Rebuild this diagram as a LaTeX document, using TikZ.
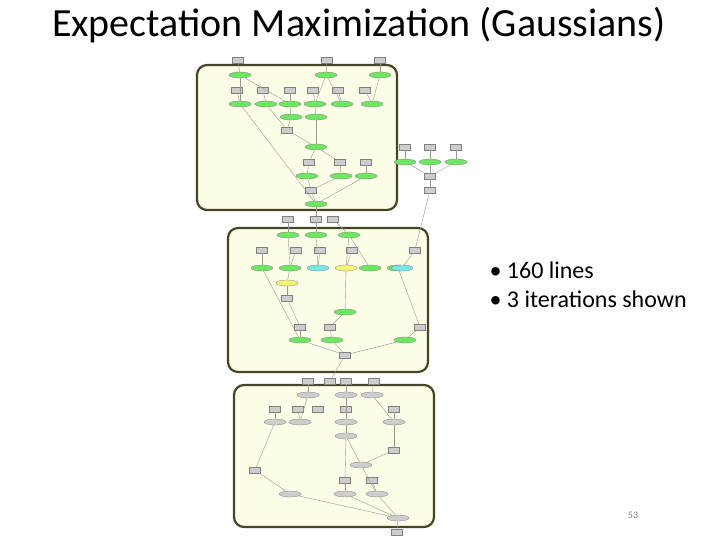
\documentclass[tikz,border=0pt]{standalone}
\usepackage{fontspec}
\setmainfont{Carlito}
\usetikzlibrary{shapes, positioning}
\definecolor{panelfill}{RGB}{253,253,232}
\definecolor{paneldraw}{RGB}{72,68,40}
\definecolor{boxgray}{RGB}{205,205,205}
\definecolor{nodegreen}{RGB}{110,230,100}
\definecolor{nodecyan}{RGB}{120,230,230}
\definecolor{nodeyellow}{RGB}{245,245,120}

\tikzset{
  panel/.style={draw=paneldraw, line width=2.2pt, fill=panelfill, rounded corners=10pt},
  gbox/.style={draw=gray, fill=boxgray, minimum width=11pt, minimum height=6pt, inner sep=0pt, line width=0.3pt},
  gell/.style={ellipse, draw=gray, fill=nodegreen, minimum width=22pt, minimum height=6pt, inner sep=0pt, line width=0.3pt},
  edge/.style={draw=gray!80, line width=0.4pt}
}

\begin{document}
\begin{tikzpicture}[x=1pt, y=-1pt]
		\useasboundingbox (0,0) rectangle (720,540);
		
		% title and bullets
		\node[font=\fontsize{40}{44}\selectfont] (title) at (359,25) {Expectation Maximization (Gaussians)};
		\node[anchor=west, align=left, font=\fontsize{24}{29}\selectfont] (bullets) at (486,285) {• 160 lines\\ • 3 iterations shown};
		\node[text=gray, font=\fontsize{10}{12}\selectfont] (pagenum) at (633,515) {53};
		
		% the three iteration panels
		\draw[panel] (197,65) rectangle (397,210);
		\draw[panel] (228,228) rectangle (428,372);
		\draw[panel] (234,385) rectangle (434,527);
		
		% first iteration
		\foreach \n/\x/\y in {a1/238/60, a2/327/60, a3/380/60, c1/237/90, c2/263/90, c3/290/90, c4/313/90, c5/338/90, c6/365/90,
			f1/287/130, h1/309/162, h2/340/162, h3/366/162, k1/311/190,
			r1/405/147, r2/430/147, r3/456/147, s1/430/176, s2/430/190}
			\node[gbox] (\n) at (\x,\y) {};
		\foreach \n/\x/\y in {b1/240/75, b2/326/75, b3/380/75, d1/240/104, d2/266/104, d3/290/104, d4/315/104, d5/342/104, d6/372/104,
			e1/291/117, e2/316/117, g1/316/147, i1/307/176, i2/341/176, i3/366/176, m1/316/204,
			q1/405/162, q2/430/162, q3/456/162}
			\node[gell] (\n) at (\x,\y) {};
		
		% second iteration
		\foreach \n/\x/\y in {ta1/288/219, ta2/316/219, ta3/333/219, tc1/262/250, tc2/296/250, tc3/320/250, tc4/352/250, tc5/415/250,
			tf1/287/298, th1/300/327, th2/330/327, th3/420/327, tk1/345/355}
			\node[gbox] (\n) at (\x,\y) {};
		\foreach \n/\x/\y in {tb1/288/235, tb2/316/235, tb3/349/235, td1/262/268, td2/290/268, td6/370/268, td7/398/268,
			tg1/345/312, ti1/300/340, ti2/332/340, ti3/405/340}
			\node[gell] (\n) at (\x,\y) {};
		\node[gell, fill=nodecyan] (td3) at (318,268) {};
		\node[gell, fill=nodeyellow] (td4) at (346,268) {};
		\node[gell, fill=nodecyan] (td5) at (402,268) {};
		\node[gell, fill=nodeyellow] (te1) at (287,283) {};
		
		% third iteration
		\foreach \n/\x/\y in {ua1/308/381, ua2/330/381, ua3/346/381, ua4/374/381, uc1/275/409, uc2/298/409, uc3/318/409, uc4/346/409, uc5/394/409,
			uf1/394/450, uh1/255/470, uh2/345/480, uh3/372/480, uk1/397/532}
			\node[gbox] (\n) at (\x,\y) {};
		\foreach \n/\x/\y in {ub1/308/395, ub2/346/395, ub3/372/395, ud1/275/422, ud2/300/422, ud3/346/422, ud4/394/422,
			ug1/346/436, ug2/361/465, ui1/290/494, ui2/345/494, ui3/377/494, um1/398/518}
			\node[gell, fill=boxgray] (\n) at (\x,\y) {};
		
		% connectors
		\foreach \s/\t in {a1/b1, a2/b2, a3/b3, b1/d1, b1/d3, c1/d1, c2/d2, c3/d3, c4/d4, c5/d5, c6/d6, b2/d4, b2/d5, b3/d6,
			d3/e1, d4/e2, d2/f1, e1/f1, e2/g1, f1/g1, g1/h1, g1/h2, h1/i1, h2/i2, h3/i3, i1/k1, i2/k1, i3/m1, k1/m1, d1/m1,
			r1/q1, r2/q2, r3/q3, q1/s1, q2/s1, q3/s1, s1/s2, m1/ta2, s2/tc5,
			ta1/tb1, ta2/tb2, ta3/tb3, tb1/td2, tb2/td3, tb3/td4, tb3/td6, tc1/td1, tc2/td2, tc3/td3, tc4/td4, tc5/td5,
			td2/te1, te1/tf1, td4/tg1, tf1/th1, tg1/th2, th1/ti1, th2/ti2, th3/ti3, td7/th3, ti1/tk1, ti2/tk1, ti3/tk1, td1/ti1,
			tk1/ua2, ua1/ub1, ua3/ub2, ua4/ub3, ub1/ud2, ub2/ud3, ub3/ud4, uc1/ud1, uc2/ud2, uc4/ud3, uc5/ud4, ud3/ug1,
			ud4/uf1, ug1/ug2, uf1/ug2, ud1/uh1, uh1/ui1, ug1/uh2, uh2/ui2, uh3/ui3, ug2/ui3, ui1/um1, ui2/um1, ui3/um1, um1/uk1}
			\draw[edge] (\s) -- (\t);
	\end{tikzpicture}
\end{document}
